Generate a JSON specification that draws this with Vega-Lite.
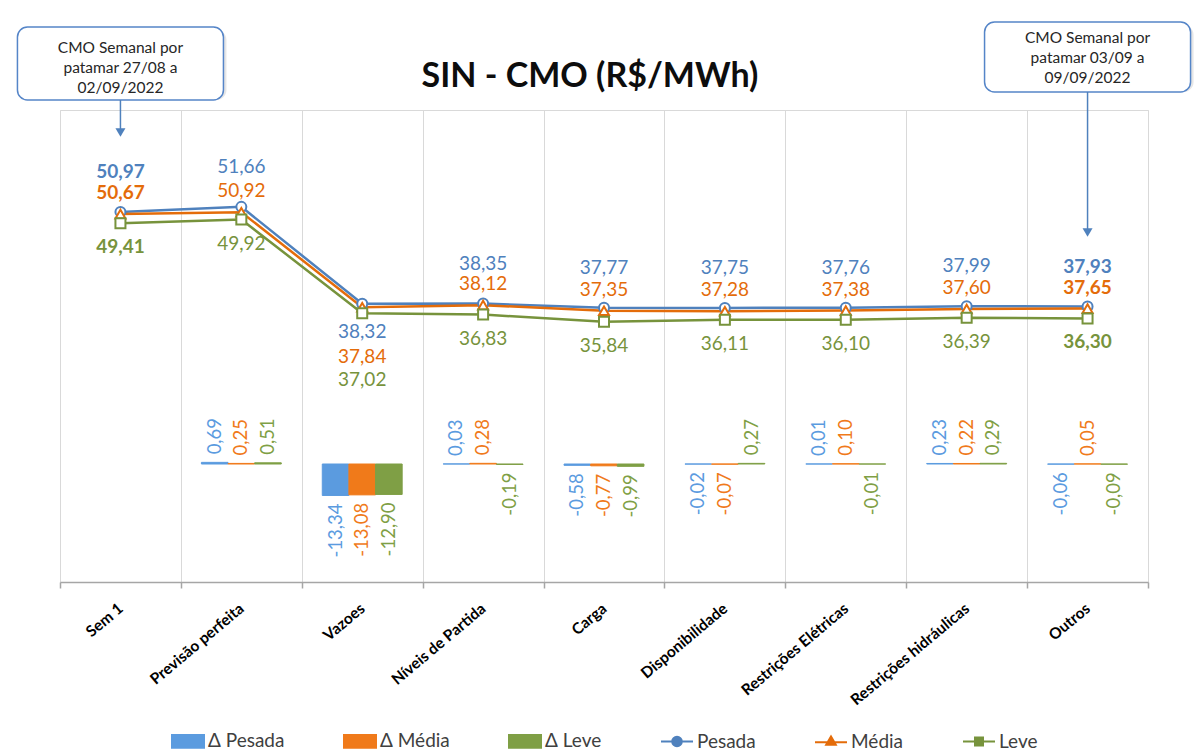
{
  "$schema": "https://vega.github.io/schema/vega-lite/v6.json",
  "width": 1088,
  "height": 472,
  "autosize": {"type": "none"},
  "padding": {"left": 60, "top": 110, "right": 54, "bottom": 169},
  "background": "white",
  "title": {"text": "SIN - CMO (R$/MWh)", "font": "Lato", "fontSize": 34, "fontWeight": "bold", "color": "#0d0d0d", "anchor": "middle", "offset": -73, "dx": -14},
  "datasets": {
    "cmo": [
      {"cat": "Sem 1", "serie": "Pesada", "valor": 50.97},
      {"cat": "Sem 1", "serie": "Média", "valor": 50.67},
      {"cat": "Sem 1", "serie": "Leve", "valor": 49.41},
      {"cat": "Previsão perfeita", "serie": "Pesada", "valor": 51.66},
      {"cat": "Previsão perfeita", "serie": "Média", "valor": 50.92},
      {"cat": "Previsão perfeita", "serie": "Leve", "valor": 49.92},
      {"cat": "Vazoes", "serie": "Pesada", "valor": 38.32},
      {"cat": "Vazoes", "serie": "Média", "valor": 37.84},
      {"cat": "Vazoes", "serie": "Leve", "valor": 37.02},
      {"cat": "Níveis de Partida", "serie": "Pesada", "valor": 38.35},
      {"cat": "Níveis de Partida", "serie": "Média", "valor": 38.12},
      {"cat": "Níveis de Partida", "serie": "Leve", "valor": 36.83},
      {"cat": "Carga", "serie": "Pesada", "valor": 37.77},
      {"cat": "Carga", "serie": "Média", "valor": 37.35},
      {"cat": "Carga", "serie": "Leve", "valor": 35.84},
      {"cat": "Disponibilidade", "serie": "Pesada", "valor": 37.75},
      {"cat": "Disponibilidade", "serie": "Média", "valor": 37.28},
      {"cat": "Disponibilidade", "serie": "Leve", "valor": 36.11},
      {"cat": "Restrições Elétricas", "serie": "Pesada", "valor": 37.76},
      {"cat": "Restrições Elétricas", "serie": "Média", "valor": 37.38},
      {"cat": "Restrições Elétricas", "serie": "Leve", "valor": 36.10},
      {"cat": "Restrições hidráulicas", "serie": "Pesada", "valor": 37.99},
      {"cat": "Restrições hidráulicas", "serie": "Média", "valor": 37.60},
      {"cat": "Restrições hidráulicas", "serie": "Leve", "valor": 36.39},
      {"cat": "Outros", "serie": "Pesada", "valor": 37.93},
      {"cat": "Outros", "serie": "Média", "valor": 37.65},
      {"cat": "Outros", "serie": "Leve", "valor": 36.30}
    ],
    "delta": [
      {"cat": "Previsão perfeita", "serie": "Δ Pesada", "valor": 0.69},
      {"cat": "Previsão perfeita", "serie": "Δ Média", "valor": 0.25},
      {"cat": "Previsão perfeita", "serie": "Δ Leve", "valor": 0.51},
      {"cat": "Vazoes", "serie": "Δ Pesada", "valor": -13.34},
      {"cat": "Vazoes", "serie": "Δ Média", "valor": -13.08},
      {"cat": "Vazoes", "serie": "Δ Leve", "valor": -12.90},
      {"cat": "Níveis de Partida", "serie": "Δ Pesada", "valor": 0.03},
      {"cat": "Níveis de Partida", "serie": "Δ Média", "valor": 0.28},
      {"cat": "Níveis de Partida", "serie": "Δ Leve", "valor": -0.19},
      {"cat": "Carga", "serie": "Δ Pesada", "valor": -0.58},
      {"cat": "Carga", "serie": "Δ Média", "valor": -0.77},
      {"cat": "Carga", "serie": "Δ Leve", "valor": -0.99},
      {"cat": "Disponibilidade", "serie": "Δ Pesada", "valor": -0.02},
      {"cat": "Disponibilidade", "serie": "Δ Média", "valor": -0.07},
      {"cat": "Disponibilidade", "serie": "Δ Leve", "valor": 0.27},
      {"cat": "Restrições Elétricas", "serie": "Δ Pesada", "valor": 0.01},
      {"cat": "Restrições Elétricas", "serie": "Δ Média", "valor": 0.10},
      {"cat": "Restrições Elétricas", "serie": "Δ Leve", "valor": -0.01},
      {"cat": "Restrições hidráulicas", "serie": "Δ Pesada", "valor": 0.23},
      {"cat": "Restrições hidráulicas", "serie": "Δ Média", "valor": 0.22},
      {"cat": "Restrições hidráulicas", "serie": "Δ Leve", "valor": 0.29},
      {"cat": "Outros", "serie": "Δ Pesada", "valor": -0.06},
      {"cat": "Outros", "serie": "Δ Média", "valor": 0.05},
      {"cat": "Outros", "serie": "Δ Leve", "valor": -0.09}
    ],
    "callout1": [
      {"cat": "Sem 1", "texto": "CMO Semanal por\npatamar 27/08 a\n02/09/2022"}
    ],
    "callout2": [
      {"cat": "Outros", "texto": "CMO Semanal por\npatamar 03/09 a\n09/09/2022"}
    ]
  },
  "encoding": {
    "x": {
      "field": "cat", "type": "nominal", "title": null,
      "scale": {"domain": ["Sem 1", "Previsão perfeita", "Vazoes", "Níveis de Partida", "Carga", "Disponibilidade", "Restrições Elétricas", "Restrições hidráulicas", "Outros"], "paddingInner": 0, "paddingOuter": 0},
      "axis": {"grid": true, "gridColor": "#d9d9d9", "gridWidth": 1, "tickBand": "extent", "domainColor": "#a6a6a6", "domainWidth": 1.5, "tickColor": "#a6a6a6", "tickWidth": 1.5, "tickSize": 6, "labelAngle": -40, "labelAlign": "right", "labelBaseline": "middle", "labelFont": "Lato", "labelFontSize": 15.5, "labelFontWeight": "bold", "labelColor": "#000000", "labelPadding": 18, "labelLimit": 300}
    }
  },
  "layer": [
    {
      "data": {"name": "delta"},
      "encoding": {
        "y": {"field": "valor", "type": "quantitative", "scale": {"domain": [-50, 150]}, "axis": null},
        "color": {
          "field": "serie", "type": "nominal",
          "scale": {"domain": ["Δ Pesada", "Δ Média", "Δ Leve", "Pesada", "Média", "Leve"], "range": ["#5B9BDF", "#F07A1A", "#7F9F45", "#4F81BD", "#E46C0A", "#77933C"]},
          "legend": {
            "title": null, "orient": "none", "legendX": 111, "legendY": 614, "direction": "horizontal", "columns": 6,
            "symbolSize": 1024, "labelFont": "Lato", "labelFontSize": 19, "labelColor": "#404040", "labelOffset": 3, "columnPadding": 55, "padding": 0, "labelLimit": 200,
            "encode": {
              "symbols": {
                "update": {
                  "shape": {"signal": "datum.value === 'Pesada' ? 'M-1,0H-0.3M0.3,0H1M-0.3,0A0.3,0.3 0 1,0 0.3,0A0.3,0.3 0 1,0 -0.3,0Z' : datum.value === 'Média' ? 'M-1,0.05H-0.25M0.25,0.05H1M0,-0.32L0.3,0.2H-0.3Z' : datum.value === 'Leve' ? 'M-1,0H-0.25M0.25,0H1M-0.25,-0.25H0.25V0.25H-0.25Z' : 'M-1,-0.4H1V0.4H-1Z'"},
                  "fill": {"signal": "datum.value === 'Δ Pesada' ? '#5B9BDF' : datum.value === 'Δ Média' ? '#F07A1A' : datum.value === 'Δ Leve' ? '#7F9F45' : '#ffffff'"},
                  "stroke": {"signal": "datum.value === 'Pesada' ? '#4F81BD' : datum.value === 'Média' ? '#E46C0A' : datum.value === 'Leve' ? '#77933C' : 'transparent'"},
                  "strokeWidth": {"value": 2},
                  "opacity": {"value": 1}
                }
              }
            }
          }
        }
      },
      "layer": [
        {
          "mark": {"type": "bar", "strokeWidth": 1},
          "encoding": {
            "xOffset": {"field": "serie", "type": "nominal", "scale": {"domain": ["Δ Pesada", "Δ Média", "Δ Leve"], "paddingInner": 0, "paddingOuter": 0.77}},
            "stroke": {"field": "serie", "type": "nominal", "scale": {"domain": ["Δ Pesada", "Δ Média", "Δ Leve"], "range": ["#5B9BDF", "#F07A1A", "#7F9F45"]}, "legend": null}
          }
        },
        {
          "transform": [{"filter": "datum.valor >= 0"}],
          "mark": {"type": "text", "angle": 270, "align": "left", "baseline": "middle", "dx": 8, "font": "Lato", "fontSize": 18.5},
          "encoding": {
            "xOffset": {"field": "serie", "type": "nominal", "scale": {"domain": ["Δ Pesada", "Δ Média", "Δ Leve"], "paddingInner": 0, "paddingOuter": 0.77}},
            "text": {"field": "valor", "type": "quantitative", "format": ".2f"}
          }
        },
        {
          "transform": [{"filter": "datum.valor < 0"}],
          "mark": {"type": "text", "angle": 270, "align": "right", "baseline": "middle", "dx": -8, "font": "Lato", "fontSize": 18.5},
          "encoding": {
            "xOffset": {"field": "serie", "type": "nominal", "scale": {"domain": ["Δ Pesada", "Δ Média", "Δ Leve"], "paddingInner": 0, "paddingOuter": 0.77}},
            "text": {"field": "valor", "type": "quantitative", "format": ".2f"}
          }
        }
      ]
    },
    {
      "data": {"name": "cmo"},
      "encoding": {
        "y": {"field": "valor", "type": "quantitative", "scale": {"domain": [0, 65]}, "axis": null},
        "color": {
          "field": "serie", "type": "nominal",
          "scale": {"domain": ["Δ Pesada", "Δ Média", "Δ Leve", "Pesada", "Média", "Leve"], "range": ["#5B9BDF", "#F07A1A", "#7F9F45", "#4F81BD", "#E46C0A", "#77933C"]},
          "legend": {
            "title": null, "orient": "none", "legendX": 111, "legendY": 614, "direction": "horizontal", "columns": 6,
            "symbolSize": 1024, "labelFont": "Lato", "labelFontSize": 19, "labelColor": "#404040", "labelOffset": 3, "columnPadding": 55, "padding": 0, "labelLimit": 200,
            "encode": {
              "symbols": {
                "update": {
                  "shape": {"signal": "datum.value === 'Pesada' ? 'M-1,0H-0.3M0.3,0H1M-0.3,0A0.3,0.3 0 1,0 0.3,0A0.3,0.3 0 1,0 -0.3,0Z' : datum.value === 'Média' ? 'M-1,0.05H-0.25M0.25,0.05H1M0,-0.32L0.3,0.2H-0.3Z' : datum.value === 'Leve' ? 'M-1,0H-0.25M0.25,0H1M-0.25,-0.25H0.25V0.25H-0.25Z' : 'M-1,-0.4H1V0.4H-1Z'"},
                  "fill": {"signal": "datum.value === 'Δ Pesada' ? '#5B9BDF' : datum.value === 'Δ Média' ? '#F07A1A' : datum.value === 'Δ Leve' ? '#7F9F45' : '#ffffff'"},
                  "stroke": {"signal": "datum.value === 'Pesada' ? '#4F81BD' : datum.value === 'Média' ? '#E46C0A' : datum.value === 'Leve' ? '#77933C' : 'transparent'"},
                  "strokeWidth": {"value": 2},
                  "opacity": {"value": 1}
                }
              }
            }
          }
        }
      },
      "layer": [
        {"mark": {"type": "line", "strokeWidth": 2.5}, "encoding": {}},
        {
          "mark": {"type": "point", "filled": false, "fill": "white", "strokeWidth": 2, "size": 100, "opacity": 1},
          "encoding": {"shape": {"field": "serie", "type": "nominal", "scale": {"domain": ["Pesada", "Média", "Leve"], "range": ["circle", "triangle-up", "square"]}, "legend": null}}
        },
        {
          "mark": {"type": "text", "font": "Lato", "fontSize": 19, "baseline": "middle",
            "dy": {"expr": "datum.cat === 'Vazoes' ? (datum.serie === 'Pesada' ? 28 : datum.serie === 'Média' ? 50 : 67) : (datum.serie === 'Pesada' ? -40 : datum.serie === 'Média' ? -21 : 24)"},
            "fontWeight": {"expr": "datum.cat === 'Sem 1' || datum.cat === 'Outros' ? 'bold' : 'normal'"}},
          "encoding": {"text": {"field": "valor", "type": "quantitative", "format": ".2f"}}
        }
      ]
    },
    {
      "layer": [
        {
          "data": {"name": "callout1"},
          "layer": [
            {"mark": {"type": "bar", "width": 206, "cornerRadius": 10, "xOffset": 3, "yOffset": 3, "opacity": 0.15, "color": "#595959"},
             "encoding": {"y": {"datum": 76.43, "type": "quantitative", "scale": {"domain": [0, 65]}, "axis": null}, "y2": {"datum": 66.38}}},
            {"mark": {"type": "bar", "width": 206, "cornerRadius": 10, "fill": "#ffffff", "stroke": "#5585C8", "strokeWidth": 1.5},
             "encoding": {"y": {"datum": 76.43, "type": "quantitative", "scale": {"domain": [0, 65]}, "axis": null}, "y2": {"datum": 66.38}}},
            {"mark": {"type": "text", "font": "Lato", "fontSize": 15.5, "lineBreak": "\n", "lineHeight": 20, "align": "center", "baseline": "middle", "color": "#262626"},
             "encoding": {"y": {"datum": 73.6, "type": "quantitative", "scale": {"domain": [0, 65]}, "axis": null}, "text": {"field": "texto"}}},
            {"mark": {"type": "rule", "strokeWidth": 1.5, "color": "#4F81BD"},
             "encoding": {"y": {"datum": 66.38, "type": "quantitative", "scale": {"domain": [0, 65]}, "axis": null}, "y2": {"datum": 62.0}}},
            {"mark": {"type": "point", "shape": "triangle-down", "filled": true, "size": 100, "opacity": 1, "color": "#4F81BD"},
             "encoding": {"y": {"datum": 61.9, "type": "quantitative", "scale": {"domain": [0, 65]}, "axis": null}}}
          ]
        },
        {
          "data": {"name": "callout2"},
          "layer": [
            {"mark": {"type": "bar", "width": 206, "cornerRadius": 10, "xOffset": 3, "yOffset": 3, "opacity": 0.15, "color": "#595959"},
             "encoding": {"y": {"datum": 77.12, "type": "quantitative", "scale": {"domain": [0, 65]}, "axis": null}, "y2": {"datum": 67.48}}},
            {"mark": {"type": "bar", "width": 206, "cornerRadius": 10, "fill": "#ffffff", "stroke": "#5585C8", "strokeWidth": 1.5},
             "encoding": {"y": {"datum": 77.12, "type": "quantitative", "scale": {"domain": [0, 65]}, "axis": null}, "y2": {"datum": 67.48}}},
            {"mark": {"type": "text", "font": "Lato", "fontSize": 15.5, "lineBreak": "\n", "lineHeight": 20, "align": "center", "baseline": "middle", "color": "#262626"},
             "encoding": {"y": {"datum": 74.98, "type": "quantitative", "scale": {"domain": [0, 65]}, "axis": null}, "text": {"field": "texto"}}},
            {"mark": {"type": "rule", "strokeWidth": 1.5, "color": "#4F81BD"},
             "encoding": {"y": {"datum": 67.48, "type": "quantitative", "scale": {"domain": [0, 65]}, "axis": null}, "y2": {"datum": 48.3}}},
            {"mark": {"type": "point", "shape": "triangle-down", "filled": true, "size": 100, "opacity": 1, "color": "#4F81BD"},
             "encoding": {"y": {"datum": 48.13, "type": "quantitative", "scale": {"domain": [0, 65]}, "axis": null}}}
          ]
        }
      ]
    }
  ],
  "resolve": {"scale": {"y": "independent"}},
  "config": {
    "font": "Lato",
    "view": {"stroke": "#d9d9d9", "strokeWidth": 1},
    "locale": {"number": {"decimal": ",", "thousands": ".", "grouping": [3], "currency": ["R$", ""], "minus": "-"}}
  }
}
